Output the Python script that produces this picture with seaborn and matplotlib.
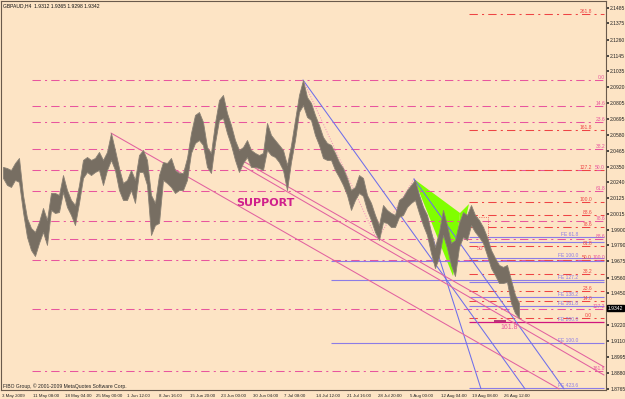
import numpy as np
import matplotlib
matplotlib.use("Agg")
import matplotlib.pyplot as plt
import matplotlib.transforms as mtransforms
import seaborn as sns

sns.set_theme(style="white")
plt.rcParams["font.family"] = ["Liberation Sans", "DejaVu Sans"]

symbol_text = "GBPAUD,H4  1.9312 1.9365 1.9298 1.9342"
copyright_text = "FIBO Group, \u00a9 2001-2009 MetaQuotes Software Corp."
last_price = 1.9342

date_labels = ["3 May 2009", "11 May 08:00", "18 May 04:00", "25 May 00:00", "1 Jun 12:00",
               "8 Jun 16:00", "15 Jun 20:00", "23 Jun 00:00", "30 Jun 04:00", "7 Jul 08:00",
               "14 Jul 12:00", "21 Jul 16:00", "28 Jul 20:00", "5 Aug 00:00", "12 Aug 04:00",
               "19 Aug 08:00", "26 Aug 12:00"]

price_ticks = [2.1485, 2.1375, 2.1260, 2.1145, 2.1035, 2.0920, 2.0805, 2.0695, 2.0580,
               2.0465, 2.0350, 2.0240, 2.0125, 2.0015, 1.9900, 1.9790, 1.9675, 1.9560,
               1.9450, 1.9220, 1.9110, 1.8995, 1.8880, 1.8765]

# high / low of each group of four H4 bars
bar_high = [2.0350, 2.0342, 2.0328, 2.0378, 2.0414, 2.0150, 1.9985, 1.9914, 1.9886, 1.9957,
            2.0057, 1.9971, 2.0164, 2.0164, 2.0150, 2.0292, 2.0185, 2.0114, 2.0078, 2.0221,
            2.0400, 2.0421, 2.0400, 2.0414, 2.0457, 2.0400, 2.0457, 2.0592, 2.0471, 2.0342,
            2.0235, 2.0257, 2.0328, 2.0257, 2.0435, 2.0471, 2.0400, 2.0150, 2.0093, 2.0292,
            2.0385, 2.0378, 2.0414, 2.0328, 2.0307, 2.0307, 2.0414, 2.0592, 2.0721, 2.0742,
            2.0671, 2.0492, 2.0450, 2.0664, 2.0828, 2.0864, 2.0735, 2.0649, 2.0542, 2.0471,
            2.0492, 2.0542, 2.0471, 2.0450, 2.0435, 2.0450, 2.0664, 2.0578, 2.0542, 2.0507,
            2.0471, 2.0364, 2.0507, 2.0685, 2.0864, 2.0971, 2.0849, 2.0807, 2.0721, 2.0649,
            2.0564, 2.0521, 2.0507, 2.0450, 2.0385, 2.0342, 2.0271, 2.0185, 2.0207, 2.0292,
            2.0271, 2.0150, 2.0093, 2.0007, 1.9935, 2.0078, 2.0043, 2.0021, 2.0007, 2.0114,
            2.0135, 2.0185, 2.0221, 2.0257, 2.0150, 2.0064, 2.0007, 1.9886, 1.9778, 1.9886,
            2.0043, 1.9935, 1.9807, 1.9828, 1.9950, 2.0028, 2.0007, 2.0078, 2.0007, 1.9971,
            1.9921, 1.9850, 1.9757, 1.9700, 1.9650, 1.9636, 1.9650, 1.9543, 1.9436, 1.9379]
bar_low = [2.0271, 2.0221, 2.0207, 2.0257, 2.0243, 2.0028, 1.9850, 1.9757, 1.9714, 1.9807,
           1.9886, 1.9793, 2.0043, 2.0021, 2.0028, 2.0171, 2.0064, 2.0007, 1.9935, 2.0093,
           2.0271, 2.0314, 2.0292, 2.0314, 2.0328, 2.0221, 2.0328, 2.0400, 2.0328, 2.0185,
           2.0114, 2.0114, 2.0185, 2.0093, 2.0314, 2.0314, 2.0221, 1.9864, 1.9935, 1.9950,
           2.0257, 2.0235, 2.0207, 2.0164, 2.0185, 2.0185, 2.0257, 2.0450, 2.0521, 2.0542,
           2.0507, 2.0350, 2.0307, 2.0521, 2.0685, 2.0699, 2.0592, 2.0507, 2.0400, 2.0314,
           2.0378, 2.0421, 2.0350, 2.0350, 2.0342, 2.0328, 2.0471, 2.0435, 2.0421, 2.0385,
           2.0328, 2.0185, 2.0385, 2.0542, 2.0742, 2.0792, 2.0707, 2.0685, 2.0578, 2.0507,
           2.0414, 2.0400, 2.0400, 2.0328, 2.0278, 2.0221, 2.0150, 2.0043, 2.0114, 2.0164,
           2.0143, 2.0043, 1.9971, 1.9886, 1.9828, 1.9957, 1.9950, 1.9921, 1.9921, 1.9993,
           2.0007, 2.0064, 2.0093, 2.0114, 2.0021, 1.9935, 1.9864, 1.9736, 1.9628, 1.9707,
           1.9864, 1.9771, 1.9650, 1.9571, 1.9778, 1.9850, 1.9828, 1.9935, 1.9886, 1.9850,
           1.9807, 1.9721, 1.9628, 1.9578, 1.9521, 1.9521, 1.9529, 1.9379, 1.9307, 1.9271]

# big fibo retracement (pink): from the July top to its 100% level
fib_a_top, fib_a_bottom = 2.0971, 1.9686
fib_a_levels = [0.0, 14.6, 23.6, 38.2, 50.0, 61.8, 78.6, 88.6, 100.0, 127.2, 161.8]
# small fibo (red): from the August high to the current low
fib_b_top, fib_b_bottom = 2.0100, 1.9271
fib_b_levels = [0.0, 14.6, 23.6, 38.2, 50.0, 61.8, 78.6, 88.6, 100.0, 127.2, 161.8, 261.8]

# fibo expansion levels (purple)
fe_prices = [1.9850, 1.9814, 1.9700, 1.9678, 1.9543, 1.9529, 1.9421, 1.9357, 1.9093, 1.8772]
fe_start = [468, 468, 468, 330, 330, 468, 468, 468, 330, 468]
fe_labels = ["FE 61.8", "", "FE 100.0", "", "FE 127.2", "", "FE 138.2", "FE 161.8",
             "FE 100.0", "FE 423.6"]
fe200_price = 1.9243

# trend lines: (bar0, price0, bar1, price1)
blue_lines = [(302, 2.0971, 524, 1.8765), (413, 2.0264, 563, 1.8765), (413, 2.0264, 480, 1.8765)]
pink_lines = [(110, 2.0592, 558, 1.8765), (240, 2.0400, 603, 1.8922), (240, 2.0364, 603, 1.8864)]
zigzag_bars = [302, 376, 413]
zigzag_prices = [2.0971, 1.9828, 2.0264]

# butterfly pattern points X, A, B, C
pattern_bars = [413, 452, 459, 468]
pattern_prices = [2.0264, 1.9571, 2.0021, 2.0085]

bg = "#FDE4C5"
candle_col = "#776E62"
pink = "#E8559E"
red = "#EE4444"
purple = "#8C7CE6"
blue = "#6E6EEA"
small = 3.6
dash_dot = (0, (8, 4, 2, 4))

fig = plt.figure(figsize=(6.25, 3.99), dpi=100)
fig.patch.set_facecolor(bg)
ax = fig.add_axes([1 / 625, 9 / 399, 605 / 625, 389 / 399])
ax.set_facecolor(bg)
ax.set_xlim(0, 605)
ax.set_ylim(1.8757, 2.1535)

# pattern (under the bars)
px, pp = pattern_bars, pattern_prices
ax.fill([px[0], px[1], px[2]], [pp[0], pp[1], pp[2]], color="#80FF00", lw=0, zorder=1)
ax.fill([px[2], px[3], px[1]], [pp[2], pp[3], pp[1]], color="#80FF00", lw=0, zorder=1)

# fibo A (labels in the right-most column)
for lvl in fib_a_levels:
    p = fib_a_top - lvl / 100 * (fib_a_top - fib_a_bottom)
    ax.hlines(p, 31, 603, color=pink, lw=0.75, linestyles=dash_dot, zorder=2)
    ax.text(604, p, f"{lvl:.1f}", ha="right", va="bottom", fontsize=small, color=pink, zorder=5)

# fibo B
for lvl in fib_b_levels:
    p = fib_b_bottom + lvl / 100 * (fib_b_top - fib_b_bottom)
    ax.hlines(p, 468, 603, color=red, lw=0.75, linestyles=dash_dot, zorder=2)
    ax.text(591, p, f"{lvl:.1f}", ha="right", va="bottom", fontsize=small, color=red, zorder=5)

# expansions
for p, s, lab in zip(fe_prices, fe_start, fe_labels):
    ax.hlines(p, s, 603, color=purple, lw=0.8, zorder=2)
    if lab:
        ax.text(577, p, lab, ha="right", va="bottom", fontsize=small, color=purple, zorder=5)
ax.hlines(fe200_price, 468, 603, color="#D0157E", lw=0.9, zorder=2)
ax.text(577, fe200_price, "FE 200.0", ha="right", va="bottom", fontsize=small, color=purple, zorder=5)

# trend lines
for x0, y0, x1, y1 in blue_lines:
    sns.lineplot(x=[x0, x1], y=[y0, y1], ax=ax, color=blue, lw=0.75, zorder=3)
for x0, y0, x1, y1 in pink_lines:
    sns.lineplot(x=[x0, x1], y=[y0, y1], ax=ax, color="#E2619F", lw=0.75, zorder=3)
sns.lineplot(x=zigzag_bars, y=zigzag_prices, ax=ax, color="#F08AB8", lw=0.7,
             linestyle=":", zorder=3)

# price bars drawn as a high-low band
bars = 2 + 4 * np.arange(len(bar_high))
ax.fill_between(bars, bar_low, bar_high, color=candle_col, lw=0.6, edgecolor="#8A8174", zorder=4)

# small marks near the end
ax.hlines(1.9993, 469, 487, color=red, lw=0.6, linestyles=":", zorder=3)
ax.vlines(487, 1.9814, 1.9993, color=red, lw=0.6, linestyles=":", zorder=3)
ax.text(479, 1.9771, "50", ha="center", va="center", fontsize=4.2, color="#EE5070", zorder=5)
ax.hlines(1.9250, 493, 505, color="#B0186A", lw=1.2, zorder=5)
ax.text(508, 1.9205, "161.8", ha="center", va="center", fontsize=5, color=pink, zorder=5)

ax.text(264, 2.0093, "SUPPORT", ha="center", va="center", fontsize=8, color="#D0208C",
        fontweight="bold", family="DejaVu Sans", zorder=5)

# axes
for sp in ax.spines.values():
    sp.set_color("#6A5A4C")
    sp.set_linewidth(0.8)
ax.yaxis.tick_right()
ax.set_yticks(price_ticks)
ax.set_yticklabels([f"{t:.4f}" for t in price_ticks])
ax.tick_params(axis="y", labelsize=small, length=2, pad=1, color="#333333", labelcolor="#222222")
ax.set_xticks(31.35 * np.arange(len(date_labels)))
ax.set_xticklabels(date_labels, ha="left")
ax.tick_params(axis="x", labelsize=3.2, length=2, pad=1, color="#333333", labelcolor="#222222")
for lab in ax.get_xticklabels():
    lab.set_transform(lab.get_transform() + mtransforms.ScaledTranslation(1 / 100, 0, fig.dpi_scale_trans))

trans = mtransforms.blended_transform_factory(ax.transAxes, ax.transData)
ax.text(1.003, last_price, "1.9342", transform=trans, ha="left", va="center", fontsize=small,
        color="white", bbox=dict(facecolor="black", edgecolor="black", pad=0.6), zorder=6,
        clip_on=False)

fig.text(3 / 625, 1 - 6 / 399, symbol_text, fontsize=small, color="#111111", va="center")
ax.text(0.003, 4 / 389, copyright_text, transform=ax.transAxes, fontsize=small,
        color="#222222", va="center")

fig.savefig("out.png", dpi=100, facecolor=bg)
